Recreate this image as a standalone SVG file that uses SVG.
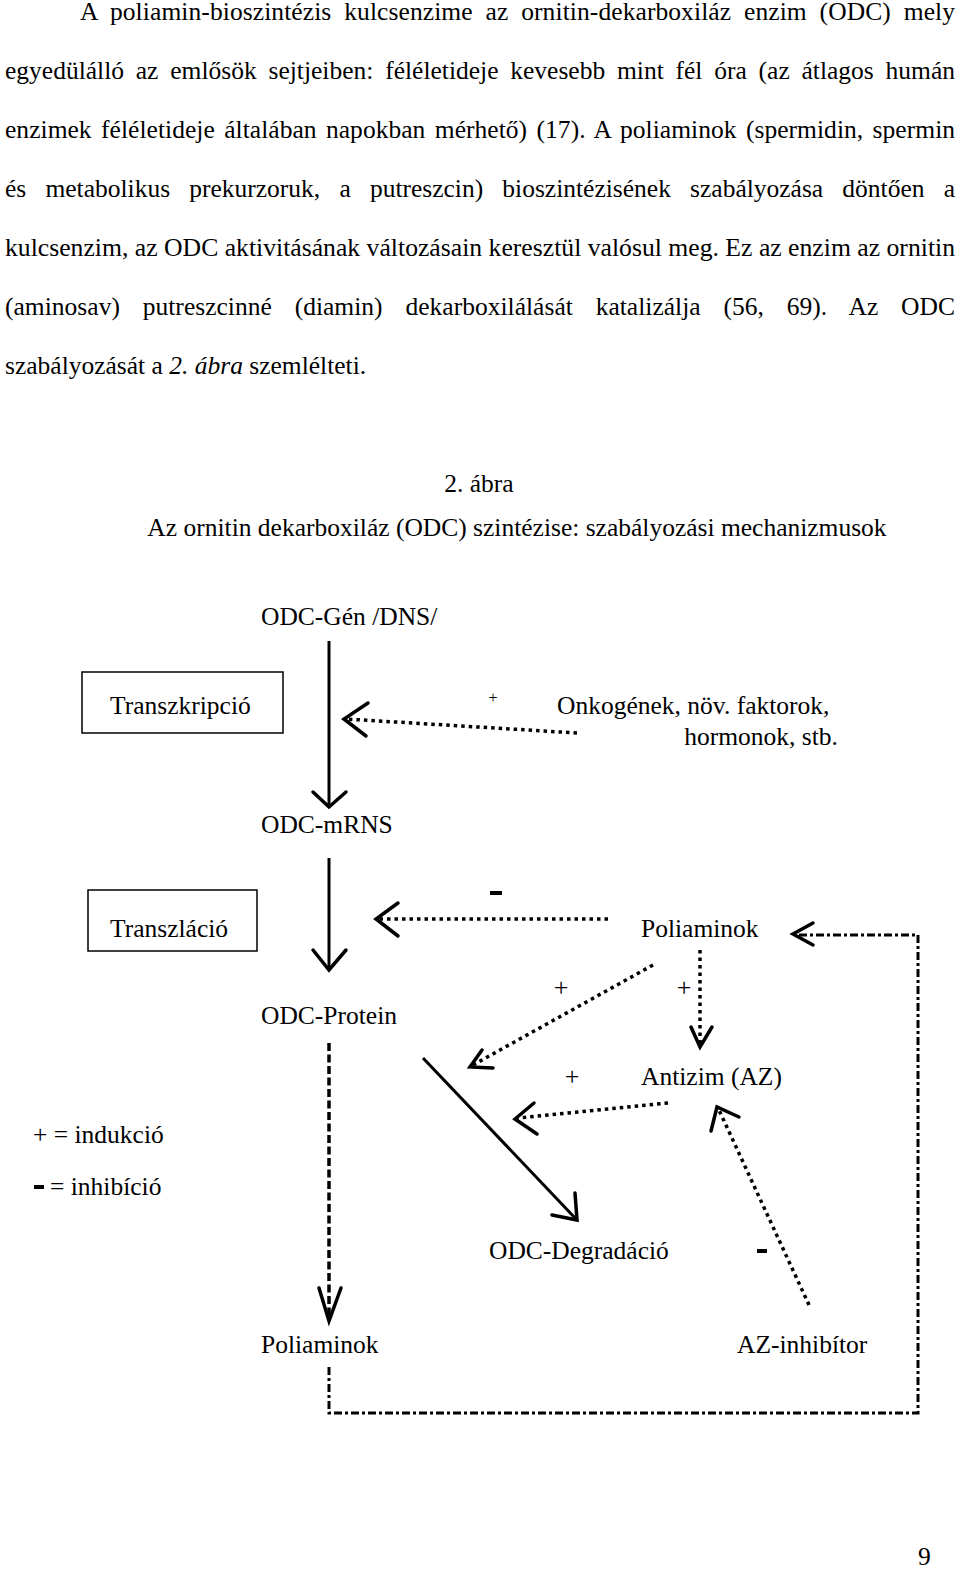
<svg xmlns="http://www.w3.org/2000/svg" width="960" height="1569" viewBox="0 0 960 1569">
<style>
text{font-family:"Liberation Serif","Times New Roman",serif;fill:#000}
.p{font-size:25.5px}
.lb{font-size:25.5px}
.solid{fill:none;stroke:#000;stroke-width:3}
.dot{fill:none;stroke:#000;stroke-width:3.5;stroke-dasharray:3.5 4}
.dash{fill:none;stroke:#000;stroke-width:3.5;stroke-dasharray:8 3.5}
.dd{fill:none;stroke:#000;stroke-width:3;stroke-dasharray:8 3 3 3}
.ah{fill:none;stroke:#000;stroke-width:3.5;stroke-linecap:round;stroke-linejoin:miter}
.box{fill:none;stroke:#000;stroke-width:1.5}
.neg{fill:#000}
</style>
<rect width="960" height="1569" fill="#fff"/>
<g id="paragraph">
<text class="p" x="80" y="20" word-spacing="6.4" textLength="875" lengthAdjust="spacing">A poliamin-bioszintézis kulcsenzime az ornitin-dekarboxiláz enzim (ODC) mely</text>
<text class="p" x="5" y="79" word-spacing="5.4" textLength="950" lengthAdjust="spacing">egyedülálló az emlősök sejtjeiben: féléletideje kevesebb mint fél óra (az átlagos humán</text>
<text class="p" x="5" y="138" word-spacing="3" textLength="950" lengthAdjust="spacing">enzimek féléletideje általában napokban mérhető) (17). A poliaminok (spermidin, spermin</text>
<text class="p" x="5" y="197" word-spacing="12.8" textLength="950" lengthAdjust="spacing">és metabolikus prekurzoruk, a putreszcin) bioszintézisének szabályozása döntően a</text>
<text class="p" x="5" y="256" textLength="950" lengthAdjust="spacingAndGlyphs">kulcsenzim, az ODC aktivitásának változásain keresztül valósul meg. Ez az enzim az ornitin</text>
<text class="p" x="5" y="315" word-spacing="16.4" textLength="950" lengthAdjust="spacing">(aminosav) putreszcinné (diamin) dekarboxilálását katalizálja (56, 69). Az ODC</text>
<text class="p" x="5" y="374">szabályozását a <tspan font-style="italic">2. ábra</tspan> szemlélteti.</text>
</g>
<g id="title">
<text class="lb" x="479" y="492" text-anchor="middle">2. ábra</text>
<text class="lb" x="517" y="536" text-anchor="middle">Az ornitin dekarboxiláz (ODC) szintézise: szabályozási mechanizmusok</text>
</g>
<g id="connectors">
<path class="solid" d="M329 641 V806"/>
<path class="ah" d="M313 792 L329 807 L346 792"/>
<path class="dot" d="M577 733 L346 719"/>
<path class="ah" d="M368 703 L344 719 L366 736"/>
<path class="solid" d="M329 858 V968"/>
<path class="ah" d="M313 950 L329 970 L346 950"/>
<path class="dot" d="M608 919 L379 919"/>
<path class="ah" d="M398 903 L376 919 L398 936"/>
<path class="dash" d="M329 1043 V1318"/>
<path class="ah" d="M319 1288 L329 1321 L341 1288"/>
<path class="solid" d="M423 1058 L576 1219"/>
<path class="ah" d="M552 1215 L577 1220 L575 1193"/>
<path class="dot" d="M653 965 L473 1065"/>
<path class="ah" d="M482 1050 L470 1067 L493 1068"/>
<path class="dot" d="M700 950 V1044"/>
<path class="ah" d="M691 1027 L700 1047 L712 1027"/>
<path class="dot" d="M668 1103 L518 1118"/>
<path class="ah" d="M534 1103 L515 1119 L537 1134"/>
<path class="dot" d="M809 1305 L719 1110"/>
<path class="ah" d="M711 1131 L717 1107 L739 1117"/>
<path class="dd" d="M329 1367 V1413 H918 V935 H796"/>
<path class="ah" d="M813 923 L793 934 L813 945"/>
</g>
<g id="signs">
<text x="493" y="703" font-size="16" text-anchor="middle">+</text>
<rect class="neg" x="490" y="891" width="12" height="4"/>
<text x="561" y="996" font-size="26" text-anchor="middle">+</text>
<text x="684" y="996" font-size="26" text-anchor="middle">+</text>
<text x="572" y="1085" font-size="26" text-anchor="middle">+</text>
<rect class="neg" x="757" y="1249" width="10" height="4"/>
</g>
<g id="n-gene"><text class="lb" x="261" y="625">ODC-Gén /DNS/</text></g>
<g id="n-transcription">
<rect class="box" x="82" y="672" width="201" height="61"/>
<text class="lb" x="110" y="714">Transzkripció</text>
</g>
<g id="n-onko">
<text class="lb" x="557" y="714">Onkogének, növ. faktorok,</text>
<text class="lb" x="838" y="745" text-anchor="end">hormonok, stb.</text>
</g>
<g id="n-mrna"><text class="lb" x="261" y="833">ODC-mRNS</text></g>
<g id="n-translation">
<rect class="box" x="88" y="890" width="169" height="61"/>
<text class="lb" x="110" y="937">Transzláció</text>
</g>
<g id="n-poli-top"><text class="lb" x="641" y="937">Poliaminok</text></g>
<g id="n-protein"><text class="lb" x="261" y="1024">ODC-Protein</text></g>
<g id="n-antizim"><text class="lb" x="641" y="1085">Antizim (AZ)</text></g>
<g id="n-degradation"><text class="lb" x="489" y="1259">ODC-Degradáció</text></g>
<g id="n-poli-bottom"><text class="lb" x="261" y="1353">Poliaminok</text></g>
<g id="n-azinh"><text class="lb" x="737" y="1353">AZ-inhibítor</text></g>
<g id="legend">
<text class="lb" x="33" y="1143">+ = indukció</text>
<rect class="neg" x="34" y="1185" width="10" height="4"/>
<text class="lb" x="50" y="1195">= inhibíció</text>
</g>
<g id="page"><text class="lb" x="918" y="1565">9</text></g>
</svg>
